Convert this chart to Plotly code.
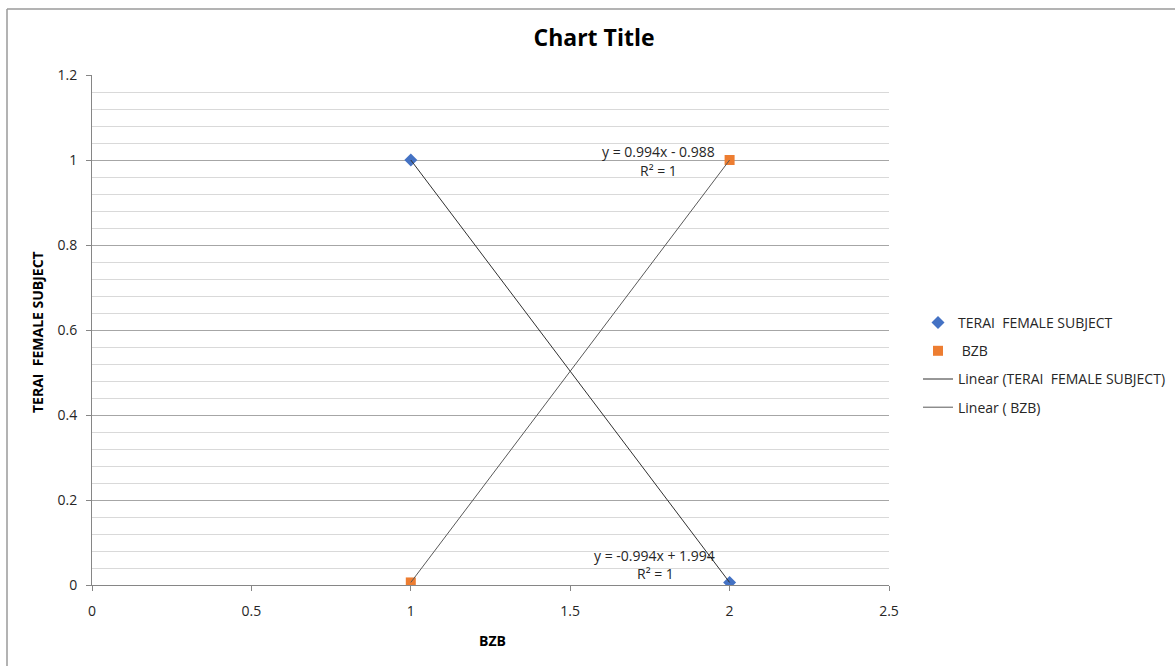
import numpy as np
import plotly.graph_objects as go

# Measured values
x_vals = [1, 2]
terai = [1.0, 0.006]
bzb = [0.006, 1.0]

terai_name = "TERAI\u00a0\u00a0FEMALE SUBJECT"
bzb_name = "BZB"

FONT = "Open Sans"
BLUE = "#4472C4"
ORANGE = "#ED7D31"

# Linear trendlines fitted from the series
def fit(xs, ys):
    m, b = np.polyfit(xs, ys, 1)
    xs_arr = np.array(xs, dtype=float)
    return xs_arr, m * xs_arr + b, m, b

tx, ty, tm, tb = fit(x_vals, terai)
bx, by, bm, bb = fit(x_vals, bzb)

fig = go.Figure()

fig.add_trace(go.Scatter(
    x=x_vals, y=terai, mode="markers", name=terai_name, legendgroup="a",
    marker=dict(symbol="diamond", size=10, color=BLUE),
))
fig.add_trace(go.Scatter(
    x=x_vals, y=bzb, mode="markers", name="\u00a0" + bzb_name, legendgroup="b",
    marker=dict(symbol="square", size=10, color=ORANGE),
))
fig.add_trace(go.Scatter(
    x=tx, y=ty, mode="lines", name="Linear (TERAI\u00a0\u00a0FEMALE SUBJECT)", legendgroup="c",
    line=dict(color="#303030", width=1),
))
fig.add_trace(go.Scatter(
    x=bx, y=by, mode="lines", name="Linear (\u00a0BZB)", legendgroup="d",
    line=dict(color="#595959", width=1),
))

def eq_text(m, b):
    sign = "-" if b < 0 else "+"
    return f"y = {m:.3f}x {sign} {abs(b):.3f}"

ann_font = dict(size=14, color="#262626", family=FONT)
annotations = [
    dict(x=1.777, y=1.019, xref="x", yref="y", text=eq_text(bm, bb), showarrow=False, font=ann_font),
    dict(x=1.777, y=0.976, xref="x", yref="y", text="R\u00b2 = 1", showarrow=False, font=ann_font),
    dict(x=1.765, y=0.0706, xref="x", yref="y", text=eq_text(tm, tb), showarrow=False, font=ann_font),
    dict(x=1.768, y=0.026, xref="x", yref="y", text="R\u00b2 = 1", showarrow=False, font=ann_font),
    # axis titles
    dict(x=(492 - 92) / 797, y=-(640 - 585) / 510, xref="paper", yref="paper",
         xanchor="center", yanchor="middle",
         text="<b>BZB</b>", showarrow=False, font=dict(size=14, color="#000", family=FONT)),
    dict(x=-(92 - 37) / 797, y=(585 - 332) / 510, xref="paper", yref="paper",
         xanchor="center", yanchor="middle",
         text="<b>TERAI\u00a0\u00a0FEMALE SUBJECT</b>", textangle=-90, showarrow=False,
         font=dict(size=14, color="#000", family=FONT)),
]

fig.update_layout(
    width=1175, height=666,
    margin=dict(l=92, r=286, t=75, b=81, autoexpand=False),
    paper_bgcolor="white", plot_bgcolor="white",
    font=dict(family=FONT, size=14, color="#262626"),
    title=dict(text="<b>Chart Title</b>", x=594 / 1175, xanchor="center",
               y=1 - 38 / 666, yanchor="middle",
               font=dict(size=23, color="#000", family=FONT)),
    showlegend=True,
    legend=dict(x=(918 - 92) / 797, xanchor="left", y=(585 - 307) / 510, yanchor="top",
                font=dict(size=14, color="#262626", family=FONT),
                tracegroupgap=7, bgcolor="rgba(0,0,0,0)"),
    annotations=annotations,
    shapes=[
        dict(type="line", xref="paper", yref="paper",
             x0=-(92 - 7) / 797, x1=(1175 - 92) / 797,
             y0=(585 - 9) / 510, y1=(585 - 9) / 510,
             line=dict(color="#9a9a9a", width=1.5)),
        dict(type="line", xref="paper", yref="paper",
             x0=-(92 - 7) / 797, x1=-(92 - 7) / 797,
             y0=(585 - 9) / 510, y1=-81 / 510,
             line=dict(color="#9a9a9a", width=1.5)),
    ],
)

fig.update_xaxes(
    range=[0, 2.5], tickvals=[0, 0.5, 1, 1.5, 2, 2.5],
    showgrid=False, zeroline=False,
    showline=True, linecolor="#868686", linewidth=1,
    ticks="outside", ticklen=5, tickcolor="#868686",
    ticklabelstandoff=8,
    tickfont=dict(size=14, color="#262626", family=FONT),
)
fig.update_yaxes(
    range=[0, 1.2], tickvals=[0, 0.2, 0.4, 0.6, 0.8, 1.0, 1.2],
    ticktext=["0", "0.2", "0.4", "0.6", "0.8", "1", "1.2"],
    showgrid=True, gridcolor="#a6a6a6", gridwidth=1, zeroline=False,
    showline=True, linecolor="#868686", linewidth=1,
    ticks="outside", ticklen=5, tickcolor="#868686",
    ticklabelstandoff=6,
    tickfont=dict(size=14, color="#262626", family=FONT),
    minor=dict(dtick=0.04, tick0=0, showgrid=True, gridcolor="#d9d9d9", gridwidth=1, ticks=""),
)

fig.write_html("out.html")
